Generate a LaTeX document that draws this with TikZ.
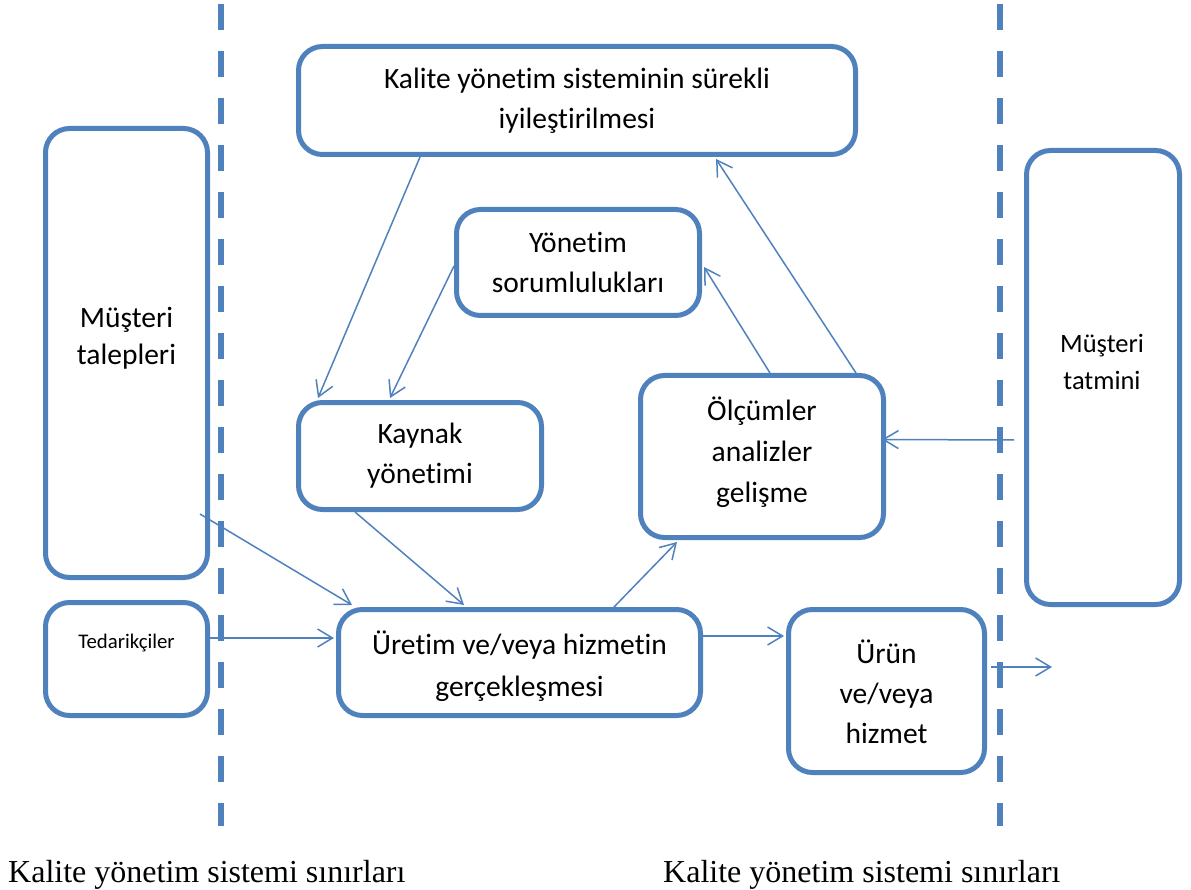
\documentclass[tikz,border=0pt]{standalone}
\usepackage{fontspec}
\setmainfont{Carlito}[Ligatures=NoCommon]
\newfontfamily\serifcap{Liberation Serif}
\usetikzlibrary{arrows.meta,calc}
\definecolor{qblue}{RGB}{79,129,189}
\tikzset{
  qbox/.style={draw=qblue, line width=5pt, rounded corners=24pt, fill=white,
    align=center, inner sep=0pt, font=\fontsize{29.5}{40}\selectfont},
  qtext/.style={align=center, inner sep=0pt},
  flow/.style={draw=qblue, line width=1.5pt, -{Straight Barb[length=15pt,width=18pt,line width=1.5pt]}},
  limit/.style={draw=qblue, line width=6pt, dash pattern=on 26pt off 21pt},
  caption/.style={anchor=base west, inner sep=0pt, font=\serifcap\fontsize{32}{36}\selectfont}
}
\begin{document}
\begin{tikzpicture}[x=1pt,y=-1pt]
\useasboundingbox (0,0) rectangle (1191,890);

% system boundaries
\coordinate (l1) at (220.5,4);
\coordinate (l2) at (220.5,826);
\coordinate (r1) at (999.5,4);
\coordinate (r2) at (999.5,826);
\draw[limit] (l1) -- (l2);
\draw[limit] (r1) -- (r2);

% process boxes
\node[qbox, minimum width=557pt, minimum height=108pt] (top) at (577,100.5)
  {Kalite yönetim sisteminin sürekli\\iyileştirilmesi};
\node[qbox, minimum width=243pt, minimum height=106pt] (yon) at (578,262.5)
  {Yönetim\\sorumlulukları};
\node[qbox, minimum width=243pt, minimum height=107pt] (kay) at (420,456)
  {Kaynak\\yönetimi};
\node[qbox, minimum width=243pt, minimum height=162pt] (olc) at (762,456.5) {};
\node[qtext, font=\fontsize{29.5}{41}\selectfont] (olct) at (762,452)
  {Ölçümler\\analizler\\gelişme};
\node[qbox, minimum width=362pt, minimum height=106pt] (uret) at (519.5,662.5) {};
\node[qtext, font=\fontsize{29.5}{42}\selectfont] (urett) at (519.5,666)
  {Üretim ve/veya hizmetin\\gerçekleşmesi};
\node[qbox, minimum width=196pt, minimum height=163pt] (urun) at (886.5,691) {};
\node[qtext, font=\fontsize{29.5}{40}\selectfont] (urunt) at (886.5,692)
  {Ürün\\ve/veya\\hizmet};

% customer and supplier boxes
\node[qbox, minimum width=162pt, minimum height=449pt] (mtal) at (126.5,353) {};
\node[qtext, font=\fontsize{29.5}{37}\selectfont] (mtalt) at (126.5,338)
  {Müşteri\\talepleri};
\node[qbox, minimum width=162pt, minimum height=113pt] (ted) at (126.5,659) {};
\node[qtext, font=\fontsize{20.8}{24}\selectfont] (tedt) at (126.5,643) {Tedarikçiler};
\node[qbox, minimum width=153pt, minimum height=454pt] (mtat) at (1103,377.5) {};
\node[qtext, font=\fontsize{26.5}{37}\selectfont] (mtatt) at (1102,361.5)
  {Müşteri\\tatmini};

% connectors
\draw[flow] ([xshift=-157pt]top.south) -- ([xshift=-102pt,yshift=2pt]kay.north);
\draw[flow] ([yshift=-3.5pt]yon.west) -- ([xshift=-30pt,yshift=2pt]kay.north);
\draw[flow] ([xshift=8pt]olc.north) -- ([xshift=2pt,yshift=-4.5pt]yon.east);
\draw[flow] ([xshift=94pt]olc.north) -- ([xshift=139pt,yshift=-2pt]top.south);
\draw[flow] ([xshift=-10pt,yshift=-62.5pt]mtat.west) -- ([xshift=-4pt,yshift=17pt]olc.east);
\draw[flow] ([xshift=-10pt,yshift=-161pt]mtal.east) -- ([xshift=-167.5pt,yshift=2pt]uret.north);
\draw[flow] ([xshift=-65pt]kay.south) -- ([xshift=-55.5pt,yshift=2pt]uret.north);
\draw[flow] ([xshift=94.5pt]uret.north) -- ([xshift=-85pt,yshift=-2pt]olc.south);
\draw[flow] ([yshift=21pt]ted.east) -- ([xshift=-2pt,yshift=21pt]ted.east -| uret.west);
\draw[flow] ([yshift=26.5pt]uret.east) -- ([xshift=-2pt,yshift=26.5pt]uret.east -| urun.west);
\coordinate (out) at (1052,667);
\draw[flow] ([xshift=4pt,yshift=24pt]urun.east) -- (out);

% boundary captions
\node[caption] (capl) at (8,882) {Kalite yönetim sistemi sınırları};
\node[caption] (capr) at (663,882) {Kalite yönetim sistemi sınırları};
\end{tikzpicture}
\end{document}
